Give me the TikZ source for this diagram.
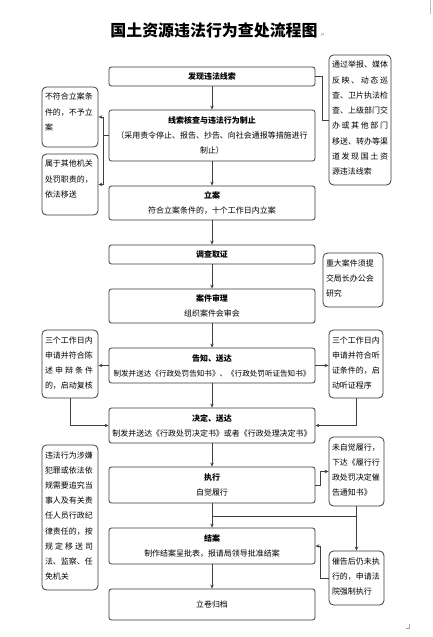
\documentclass[tikz,border=0pt]{standalone}
\usepackage{fontspec}
\setmainfont{Noto Sans CJK SC}
\newfontfamily\symf{DejaVu Sans}
\usetikzlibrary{arrows.meta}
\definecolor{bc}{HTML}{3A3A3A}
\definecolor{lc}{HTML}{404040}
\newlength\sw
\def\mygob#1{}
\def\sprA#1#2{#1\ifx\relax#2\expandafter\mygob\else\hfil\fi\sprA#2}
\newcommand\spr[1]{\makebox[\sw][s]{\sprA#1\relax}}
\newcommand\ts{\rule{0pt}{13bp}}
\begin{document}
\begin{tikzpicture}[x=1bp,y=-1bp,
  mbox/.style={draw=bc, line width=0.8bp, rounded corners=2.5bp, minimum width=206bp, inner sep=0pt, align=center, font=\fontsize{8}{15}\selectfont},
  sbox/.style={draw=bc, line width=0.8bp, rounded corners=4.5bp, inner xsep=3bp, inner ysep=0pt, font=\fontsize{8}{15.3}\selectfont},
  conn/.style={draw=lc, line width=0.8bp},
  arr/.style={conn, -{Stealth[length=4bp,width=3.5bp]}}]
\useasboundingbox (0,0) rectangle (433,637);

% title
\node[font=\fontsize{16}{16}\selectfont\bfseries, inner sep=0pt] (t) at (214,30) {国土资源违法行为查处流程图};
\node[font=\symf\fontsize{5}{5}\selectfont, text=gray, inner sep=0pt] (tm) at (323,35) {↵};
\draw[gray!50, line width=0.5bp] (430,0) -- (430,14);
\draw[gray!70, line width=0.5bp] (409,624) -- (409,628.5) -- (405.5,628.5);

% main boxes
\node[mbox, minimum height=19bp] (n1) at (212,76.5) {\textbf{发现违法线索}};
\node[mbox, minimum height=51bp] (n2) at (212,135.5) {\textbf{线索核查与违法行为制止}\\（采用责令停止、报告、抄告、向社会通报等措施进行\\制止）};
\node[mbox, minimum height=34bp] (n3) at (212,203) {\textbf{立案}\\符合立案条件的，十个工作日内立案};
\node[mbox, minimum height=19bp] (n4) at (212,254.5) {\textbf{调查取证}};
\node[mbox, minimum height=34bp] (n5) at (212,306) {\textbf{案件审理}\\组织案件会审会};
\node[mbox, minimum height=35bp] (n6) at (212,365.5) {\textbf{告知、送达}\\{\fontsize{7.6}{15}\selectfont 制发并送达《行政处罚告知书》、《行政处罚听证告知书》}};
\node[mbox, minimum height=35bp] (n7) at (212,425.5) {\textbf{决定、送达}\\制发并送达《行政处罚决定书》或者《行政处理决定书》};
\node[mbox, minimum height=36bp] (n8) at (212,485) {\textbf{执行}\\自觉履行};
\node[mbox, minimum height=36bp] (n9) at (212,546) {\textbf{结案}\\制作结案呈批表，报请局领导批准结案};
\node[mbox, minimum height=31bp] (n10) at (212,604.5) {立卷归档};

% side boxes
\node[sbox] (r1) at (360,120) {\setlength\sw{56bp}\parbox[c][130bp][t]{56bp}{\ts\spr{通过举报、媒体}\\\spr{反映、动态巡}\\\spr{查、卫片执法检}\\\spr{查、上级部门交}\\\spr{办或其他部门}\\\spr{移送、转办等渠}\\\spr{道发现国土资}\\源违法线索}};
\node[sbox] (la) at (70,117) {\parbox[c][60bp][t]{50bp}{\ts 不符合立案条\\件的，不予立\\案}};
\node[sbox] (lb) at (70,184.5) {\parbox[c][61bp][t]{50bp}{\ts 属于其他机关\\处罚职责的，\\依法移送}};
\node[sbox] (r2) at (353,280) {\parbox[c][54bp][t]{54bp}{\ts 重大案件须提\\交局长办公会\\研究}};
\node[sbox] (lc) at (70,364) {\setlength\sw{48bp}\parbox[c][68bp][t]{50bp}{\ts 三个工作日内\\申请并符合陈\\\spr{述申辩条件}\\的，启动复核}};
\node[sbox] (rc) at (356,364) {\parbox[c][68bp][t]{48bp}{\ts 三个工作日内\\申请并符合听\\证条件的，启\\动听证程序}};
\node[sbox] (ld) at (70,517.5) {\setlength\sw{48bp}\parbox[c][145bp][t]{50bp}{\ts 违法行为涉嫌\\犯罪或依法依\\规需要追究当\\事人及有关责\\任人员行政纪\\律责任的，按\\\spr{规定移送司}\\法、监察、任\\免机关}};
\node[sbox] (rd) at (356.5,471.5) {\parbox[c][69bp][t]{49bp}{\ts 未自觉履行，\\下达《履行行\\政处罚决定催\\告通知书》}};
\node[sbox] (re) at (356.5,578) {\parbox[c][54bp][t]{49bp}{\ts 催告后仍未执\\行的，申请法\\院强制执行}};

% connectors
\draw[conn] (n1.east) -- ++(7,0) |- (r1.west);
\draw[arr] (n1.south) -- (n2.north);
\coordinate (ja) at (103,135.5);
\draw[conn] (n2.west) -- (ja);
\draw[arr] (ja) |- (la.east);
\draw[arr] (ja) |- (lb.east);
\draw[arr] (n2.south) -- (n3.north);
\draw[arr] (n3.south) -- (n4.north);
\draw[arr] (n4.south) -- (n5.north);
\draw[arr] (n5.south) -- (n6.north);
\draw[arr] (n6.west) -- (n6.west -| lc.east);
\draw[arr] (n6.east) -- (n6.east -| rc.west);
\draw[arr] (lc.south) |- (n7.west);
\draw[arr] (rc.south) |- (n7.east);
\draw[arr] (n6.south) -- (n7.north);
\draw[arr] (n7.south) -- (n8.north);
\draw[arr] (n8.east) -- ++(5,0) |- (rd.west);
\draw[arr] (n8.south) -- (n9.north);
\draw[arr] (rd.south) -- (re.north);
\coordinate (jm) at (212,516);
\draw[conn] (rd.south |- jm) -- (jm);
\draw[arr] (re.west) -- ++(-8,0) |- (n9.east);
\draw[arr] (n9.south) -- (n10.north);
\end{tikzpicture}
\end{document}
